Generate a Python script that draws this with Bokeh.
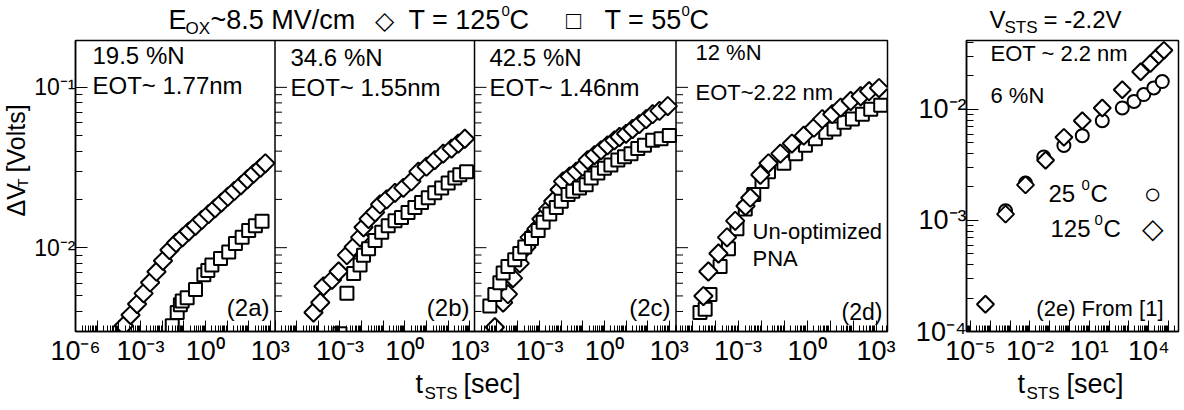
import math
from bokeh.plotting import figure
from bokeh.models import Range1d, LogScale, FixedTicker, CustomJSTickFormatter, Label
from bokeh.layouts import row, column
from bokeh.embed import file_html
from bokeh.resources import INLINE

FONT = "Liberation Sans"

# ---------------- data: stress time t [s], threshold shift dVT [V] ----------------
# (2a) 19.5 %N
a_t125_t = [1.7e-4, 3.5e-4, 7e-4, 1.4e-3, 2.8e-3, 5.5e-3, 1.1e-2, 2.2e-2, 4.4e-2, 8.7e-2, 0.17, 0.35,
            0.69, 1.4, 2.8, 5.5, 11, 22, 44, 87, 170, 350, 590]
a_t125_v = [3.26e-3, 3.8e-3, 4.45e-3, 5.19e-3, 6.07e-3, 7.08e-3, 8.28e-3, 9.66e-3, 1.07e-2, 1.16e-2,
            1.26e-2, 1.37e-2, 1.49e-2, 1.62e-2, 1.76e-2, 1.91e-2, 2.08e-2, 2.26e-2, 2.45e-2, 2.67e-2,
            2.9e-2, 3.15e-2, 3.36e-2]
a_t55_t = [0.0295, 0.05, 0.07, 0.085, 0.144, 0.35, 0.85, 1.3, 2.0, 5.0, 12, 24.5, 50, 100, 204, 415]
a_t55_v = [3.26e-3, 3.94e-3, 4.4e-3, 4.65e-3, 4.87e-3, 5.48e-3, 6.78e-3, 7.2e-3, 7.8e-3, 8.57e-3,
           9.4e-3, 1.06e-2, 1.16e-2, 1.28e-2, 1.37e-2, 1.46e-2]
# (2b) 34.6 %N
b_t125_t = [6.0e-5, 1.23e-4, 1.74e-4, 4.3e-4, 8.7e-4, 2.1e-3, 4.3e-3, 8.5e-3, 1.23e-2, 2.1e-2, 4.2e-2,
            7.1e-2, 0.144, 0.35, 0.85, 2.0, 4.2, 10, 24, 59, 144, 293, 590]
b_t125_v = [3.94e-3, 4.55e-3, 5.74e-3, 6.3e-3, 7.1e-3, 8.98e-3, 1.01e-2, 1.16e-2, 1.34e-2, 1.51e-2,
            1.66e-2, 1.86e-2, 2.0e-2, 2.2e-2, 2.36e-2, 2.59e-2, 2.98e-2, 3.2e-2, 3.52e-2, 3.86e-2,
            4.15e-2, 4.46e-2, 4.78e-2]
b_t55_t = [1e-3, 2.1e-3, 4.3e-3, 8.5e-3, 1.23e-2, 2.1e-2, 4.2e-2, 8.5e-2, 0.17, 0.35, 0.7, 1.4, 2.9,
           5.9, 12, 24, 50, 100, 204, 345, 710]
b_t55_v = [2.9e-3, 5.2e-3, 6.9e-3, 7.8e-3, 8.98e-3, 9.86e-3, 1.11e-2, 1.25e-2, 1.37e-2, 1.47e-2,
           1.54e-2, 1.66e-2, 1.78e-2, 1.91e-2, 2.05e-2, 2.2e-2, 2.36e-2, 2.53e-2, 2.72e-2, 2.85e-2,
           2.98e-2]
# (2c) 42.5 %N
c_t125_t = [8.7e-6, 2.1e-5, 3.5e-5, 6e-5, 1.23e-4, 2.5e-4, 3.5e-4, 7.2e-4, 1.23e-3, 2.5e-3, 4.3e-3,
            8.5e-3, 1.23e-2, 2.5e-2, 5e-2, 0.1, 0.17, 0.35, 0.7, 1.4, 2.9, 5, 10, 20, 41, 85, 170,
            350, 850]
c_t125_v = [3.19e-3, 4.55e-3, 5.13e-3, 6.46e-3, 7.98e-3, 1.01e-2, 1.16e-2, 1.31e-2, 1.51e-2, 1.74e-2,
            1.95e-2, 2.3e-2, 2.59e-2, 2.78e-2, 2.98e-2, 3.2e-2, 3.52e-2, 3.78e-2, 4.05e-2, 4.35e-2,
            4.67e-2, 4.9e-2, 5.13e-2, 5.5e-2, 5.9e-2, 6.34e-2, 6.8e-2, 7.13e-2, 7.64e-2]
c_t55_t = [5.1e-6, 8.7e-6, 1.48e-5, 2.1e-5, 3.5e-5, 7.2e-5, 1.23e-4, 2.1e-4, 4.3e-4, 8.7e-4, 1.48e-3,
           3e-3, 6e-3, 1.02e-2, 2.1e-2, 3.5e-2, 7.1e-2, 0.144, 0.245, 0.5, 1.0, 2.0, 4.2, 8.5, 17,
           35, 71, 170, 415, 1000]
c_t55_v = [4.33e-3, 5.1e-3, 6.04e-3, 6.94e-3, 7.62e-3, 8.4e-3, 9.2e-3, 1.01e-2, 1.14e-2, 1.28e-2,
           1.44e-2, 1.62e-2, 1.78e-2, 1.95e-2, 2.15e-2, 2.25e-2, 2.36e-2, 2.47e-2, 2.72e-2, 2.92e-2,
           3.13e-2, 3.28e-2, 3.52e-2, 3.69e-2, 3.86e-2, 4.15e-2, 4.35e-2, 4.67e-2, 4.78e-2, 5.0e-2]
# (2d) 12 %N, un-optimized PNA
d_t125_t = [3.1e-5, 5.1e-5, 1.4e-4, 3.3e-4, 7.5e-4, 2.1e-3, 3.4e-3, 9.3e-3, 2.1e-2, 6.9e-2, 0.22,
            0.72, 2.0, 4.6, 12.5, 29, 79, 215, 500, 1350]
d_t125_v = [4.99e-3, 7.1e-3, 9.2e-3, 1.16e-2, 1.47e-2, 1.82e-2, 2.05e-2, 2.85e-2, 3.36e-2, 3.86e-2,
            4.46e-2, 5.0e-2, 5.6e-2, 6.34e-2, 6.8e-2, 7.48e-2, 8.22e-2, 8.8e-2, 9.46e-2, 9.9e-2]
d_t55_t = [2.2e-5, 3.7e-5, 6e-5, 1.65e-4, 3.8e-4, 8.9e-4, 2.05e-3, 4.8e-3, 1.1e-2, 2.1e-2, 9.8e-2,
           0.32, 0.85, 2.3, 6.5, 15, 41, 94, 255, 590, 1600]
d_t55_v = [3.94e-3, 4.13e-3, 5.1e-3, 7.62e-3, 9.86e-3, 1.31e-2, 1.74e-2, 2.15e-2, 2.59e-2, 2.98e-2,
           3.36e-2, 3.86e-2, 4.35e-2, 4.78e-2, 5.25e-2, 5.5e-2, 6.05e-2, 6.34e-2, 6.8e-2, 7.3e-2,
           7.73e-2]
# (2e) 6 %N, from [1]
e_t25_t = [5.9e-4, 6e-3, 5e-2, 0.52, 4.4, 45, 460, 1.8e3, 5.6e3, 1.8e4, 4.8e4]
e_t25_v = [1.22e-3, 2.17e-3, 3.73e-3, 4.73e-3, 5.8e-3, 7.9e-3, 1.03e-2, 1.18e-2, 1.36e-2, 1.56e-2,
           1.78e-2]
e_t125_t = [5.7e-5, 5.9e-4, 6e-3, 6.2e-2, 0.52, 4.4, 45, 460, 3.9e3, 1.2e4, 3.2e4, 5.8e4]
e_t125_v = [1.76e-4, 1.14e-3, 2.09e-3, 3.48e-3, 5.6e-3, 7.9e-3, 1.03e-2, 1.5e-2, 2.18e-2, 2.59e-2,
            3.07e-2, 3.4e-2]

# axis labels (decade exponents)
LABELED = {"a": [-6, -3, 0, 3], "b": [-3, 0, 3], "c": [-3, 0, 3], "d": [-3, 0, 3]}
E_X_LABELED = [-5, -2, 1, 4]
AD_Y_MAJOR = [0.01, 0.1]
E_Y_MAJOR = [1e-4, 1e-3, 1e-2]

# ---------------- layout (page pixels) ----------------
TOTAL_W = 1182
HEAD_H = 38
TOP = 40            # frame top
FH = 296            # frame height
BOTTOM = TOP + FH   # frame bottom
MID_BOTTOM = 368    # bottom of the plot row
FOOT_BOTTOM = 408
YLAB_W = 31
AD_LEFT = 73
AD_W = 814
AD_RIGHT_BORDER = 10
E_LEFT = 966
E_W = 212
MID_H = MID_BOTTOM - HEAD_H

# panel: (offset in frame px, width px, log10 t at left, log10 t at right)
PANELS = {"a": (0, 200, -6.0, 3.217), "b": (200, 200, -6.0, 3.217),
          "c": (400, 202, -6.0, 3.31), "d": (602, 212, -5.7, 3.5)}
YLO, YHI = 0.003, 0.196
E_XLO, E_XHI = -5.2, 5.5
E_YLO, E_YHI = 1e-4, 10 ** -1.38

SUP = str.maketrans("-0123456789", "⁻⁰¹²³⁴⁵⁶⁷⁸⁹")


def sup(d):
    return "10" + str(d).translate(SUP)


def ppd(n):
    off, w, lo, hi = PANELS[n]
    return w / (hi - lo)


def full(n):
    off, w, lo, hi = PANELS[n]
    k = ppd(n)
    return 10 ** (lo - off / k), 10 ** (hi + (AD_W - off - w) / k)


def to_main(n, L):
    off, w, lo, hi = PANELS[n]
    px = off + (L - lo) * ppd(n)
    return PANELS["a"][2] + px / ppd("a")


FMT_CODE = """
const L = Math.log10(tick);
for (let i = 0; i < vals.length; i++) {
  if (Math.abs(L - vals[i]) < 1e-6) { return labs[i]; }
}
return "";
"""


def style_axis(ax, size):
    ax.axis_line_width = 1.5
    ax.axis_line_color = "black"
    ax.major_tick_in = 11
    ax.major_tick_out = 0
    ax.minor_tick_in = 6
    ax.minor_tick_out = 0
    ax.major_tick_line_color = "black"
    ax.minor_tick_line_color = "black"
    ax.major_label_text_font = FONT
    ax.major_label_text_font_size = f"{size}px"
    ax.major_label_text_color = "black"


def txt(fig, frame_left, frame_bottom, s, x, y, size, align="left", angle=0.0):
    fig.add_layout(Label(x=x - frame_left, y=frame_bottom - y, x_units="screen", y_units="screen",
                         text=s, text_font=FONT, text_font_size=f"{size}px",
                         text_align=align, text_baseline="middle", angle=angle,
                         text_color="black"))


def diamonds(fig, t, v, rn="default", size=13, lw=2):
    fig.scatter(t, v, marker="square", angle=math.pi / 4, size=size, line_color="black",
                line_width=lw, fill_color="white", x_range_name=rn)


def squares(fig, t, v, rn="default", size=13):
    fig.scatter(t, v, marker="square", size=size, line_color="black", line_width=2,
                fill_color="white", x_range_name=rn)


def blank(w, h):
    f = figure(width=w, height=h, x_range=Range1d(0, 1), y_range=Range1d(0, 1),
               x_axis_type=None, y_axis_type=None, output_backend="svg", toolbar_location=None,
               min_border_left=0, min_border_right=0, min_border_top=0, min_border_bottom=0)
    f.outline_line_color = None
    f.xgrid.visible = False
    f.ygrid.visible = False
    return f


# ---------------- panels a-d ----------------
p = figure(width=AD_LEFT - YLAB_W + AD_W + AD_RIGHT_BORDER, height=MID_H,
           x_axis_type="log", y_axis_type="log",
           x_range=Range1d(*full("a")), y_range=Range1d(YLO, YHI),
           output_backend="svg", toolbar_location=None,
           min_border_left=AD_LEFT - YLAB_W, min_border_right=AD_RIGHT_BORDER,
           min_border_top=TOP - HEAD_H, min_border_bottom=MID_BOTTOM - BOTTOM)
p.extra_x_ranges = {n: Range1d(*full(n)) for n in "bcd"}
p.extra_x_scales = {n: LogScale() for n in "bcd"}
p.xgrid.visible = False
p.ygrid.visible = False
p.outline_line_color = "black"
p.outline_line_width = 1.5

maj, labs, mnr = [], [], []
for n in "abcd":
    off, w, lo, hi = PANELS[n]
    for d in range(math.ceil(lo), math.floor(hi) + 1):
        maj.append(to_main(n, d))
        labs.append(sup(d) if d in LABELED[n] else "")
    for d in range(math.floor(lo), math.ceil(hi)):
        for k in range(2, 10):
            L = d + math.log10(k)
            if lo < L < hi:
                mnr.append(to_main(n, L))
p.xaxis.ticker = FixedTicker(ticks=[10 ** v for v in maj], minor_ticks=[10 ** v for v in mnr])
p.xaxis.formatter = CustomJSTickFormatter(args=dict(vals=maj, labs=labs), code=FMT_CODE)
style_axis(p.xaxis[0], 27)
p.xaxis.major_label_standoff = 4

y_minor = [k * 10 ** d for d in (-3, -2, -1) for k in range(2, 10) if YLO <= k * 10 ** d <= YHI]
p.yaxis.ticker = FixedTicker(ticks=AD_Y_MAJOR, minor_ticks=y_minor)
p.yaxis.formatter = CustomJSTickFormatter(
    args=dict(vals=[math.log10(v) for v in AD_Y_MAJOR],
              labs=[sup(round(math.log10(v))) for v in AD_Y_MAJOR]), code=FMT_CODE)
style_axis(p.yaxis[0], 23)
p.yaxis.major_tick_in = 12
p.yaxis.minor_tick_in = 7
p.yaxis.major_label_standoff = 0

# panel dividers and their inner y ticks
for n in "bcd":
    off, w, lo, hi = PANELS[n]
    x0 = 10 ** lo
    p.segment(x0=[x0], y0=[YLO], x1=[x0], y1=[YHI], line_color="black", line_width=1.5,
              x_range_name=n)
    p.segment(x0=[x0] * len(AD_Y_MAJOR), y0=AD_Y_MAJOR,
              x1=[10 ** (lo + 12 / ppd(n))] * len(AD_Y_MAJOR), y1=AD_Y_MAJOR,
              line_color="black", line_width=1, x_range_name=n)
    p.segment(x0=[x0] * len(y_minor), y0=y_minor,
              x1=[10 ** (lo + 7 / ppd(n))] * len(y_minor), y1=y_minor,
              line_color="black", line_width=1, x_range_name=n)

diamonds(p, a_t125_t, a_t125_v, "default")
squares(p, a_t55_t, a_t55_v, "default")
diamonds(p, b_t125_t, b_t125_v, "b")
squares(p, b_t55_t, b_t55_v, "b")
diamonds(p, c_t125_t, c_t125_v, "c")
squares(p, c_t55_t, c_t55_v, "c")
squares(p, d_t55_t, d_t55_v, "d")
diamonds(p, d_t125_t, d_t125_v, "d")

# panel annotations
for s, x, y, sz, al in [("19.5 %N", 90, 60, 24, "left"), ("EOT~ 1.77nm", 90, 90, 24, "left"),
                        ("(2a)", 267, 312, 24, "right"),
                        ("34.6 %N", 288, 62, 24, "left"), ("EOT~ 1.55nm", 288, 92, 24, "left"),
                        ("(2b)", 467, 312, 24, "right"),
                        ("42.5 %N", 487, 62, 24, "left"), ("EOT~ 1.46nm", 487, 92, 24, "left"),
                        ("(2c)", 668, 312, 24, "right"),
                        ("12 %N", 693, 57, 22, "left"), ("EOT~2.22 nm", 693, 97, 22, "left"),
                        ("Un-optimized", 750, 236, 22, "left"), ("PNA", 750, 263, 22, "left"),
                        ("(2d)", 880, 316, 23, "right")]:
    txt(p, AD_LEFT, BOTTOM, s, x, y, sz, align=al)

# ---------------- panel e ----------------
E_BORDER_LEFT = E_LEFT - (AD_LEFT + AD_W + AD_RIGHT_BORDER)
pe = figure(width=E_BORDER_LEFT + E_W + (TOTAL_W - E_LEFT - E_W), height=MID_H,
            x_axis_type="log", y_axis_type="log",
            x_range=Range1d(10 ** E_XLO, 10 ** E_XHI), y_range=Range1d(E_YLO, E_YHI),
            output_backend="svg", toolbar_location=None,
            min_border_left=E_BORDER_LEFT, min_border_right=TOTAL_W - E_LEFT - E_W,
            min_border_top=TOP - HEAD_H, min_border_bottom=MID_BOTTOM - BOTTOM)
pe.xgrid.visible = False
pe.ygrid.visible = False
pe.outline_line_color = "black"
pe.outline_line_width = 1.5

e_maj = list(range(math.ceil(E_XLO), math.floor(E_XHI) + 1))
e_mnr = [d + math.log10(k) for d in range(math.floor(E_XLO), math.ceil(E_XHI)) for k in range(2, 10)
         if E_XLO < d + math.log10(k) < E_XHI]
pe.xaxis.ticker = FixedTicker(ticks=[10 ** d for d in e_maj], minor_ticks=[10 ** v for v in e_mnr])
pe.xaxis.formatter = CustomJSTickFormatter(
    args=dict(vals=e_maj, labs=[sup(d) if d in E_X_LABELED else "" for d in e_maj]), code=FMT_CODE)
style_axis(pe.xaxis[0], 27)
pe.xaxis.major_label_standoff = 4

ey_minor = [k * 10 ** d for d in (-4, -3, -2) for k in range(2, 10) if k * 10 ** d <= E_YHI]
pe.yaxis.ticker = FixedTicker(ticks=E_Y_MAJOR, minor_ticks=ey_minor)
pe.yaxis.formatter = CustomJSTickFormatter(
    args=dict(vals=[math.log10(v) for v in E_Y_MAJOR],
              labs=[sup(round(math.log10(v))) for v in E_Y_MAJOR]), code=FMT_CODE)
style_axis(pe.yaxis[0], 27)
pe.yaxis.major_tick_in = 12
pe.yaxis.minor_tick_in = 7
pe.yaxis.major_label_standoff = 0

pe.scatter(e_t25_t, e_t25_v, marker="circle", size=13, line_color="black", line_width=2,
           fill_color="white")
diamonds(pe, e_t125_t, e_t125_v, size=12)

for s, x, y, sz, al in [("EOT ~ 2.2 nm", 990, 58, 22, "left"), ("6 %N", 990, 100, 22, "left"),
                        ("25", 1048, 198, 24, "left"), ("0", 1081, 189, 15, "left"),
                        ("C", 1090, 198, 24, "left"), ("○", 1152, 198, 30, "center"),
                        ("125", 1050, 233, 24, "left"), ("0", 1094, 224, 15, "left"),
                        ("C", 1103, 233, 24, "left"), ("◇", 1152, 233, 28, "center"),
                        ("(2e) From [1]", 1163, 313, 22, "right")]:
    txt(pe, E_LEFT, BOTTOM, s, x, y, sz, align=al)

# ---------------- header: title and V_STS ----------------
head = blank(TOTAL_W, HEAD_H)
for s, x, y, sz, al in [("E", 168, 19, 27, "left"), ("OX", 185, 28, 17, "left"),
                        ("~8.5 MV/cm", 210, 19, 27, "left"), ("◇", 384, 19, 25, "center"),
                        ("T = 125", 408, 19, 27, "left"),
                        ("0", 501, 10, 15, "left"), ("C", 509, 19, 27, "left"),
                        ("□", 573, 19, 25, "center"),
                        ("T = 55", 604, 19, 27, "left"), ("0", 681, 10, 15, "left"),
                        ("C", 689, 19, 27, "left"),
                        ("V", 989, 19, 24, "left"), ("STS", 1004, 27, 17, "left"),
                        ("= -2.2V", 1043, 19, 24, "left")]:
    txt(head, 0, HEAD_H, s, x, y, sz, align=al)

# ---------------- y label strip ----------------
ylab = blank(YLAB_W, MID_H)
for s, x, y, sz in [("ΔV", 15.5, 253, 25), ("T", 21.5, 224, 15), ("[Volts]", 15.5, 209, 25)]:
    txt(ylab, 0, MID_BOTTOM, s, x, y, sz, angle=math.pi / 2)

# ---------------- footer: x labels ----------------
foot = blank(TOTAL_W, FOOT_BOTTOM - MID_BOTTOM)
for s, x, y, sz in [("t", 415, 383, 27), ("STS", 424, 393, 17), ("[sec]", 463, 383, 27),
                    ("t", 1017, 383, 27), ("STS", 1026, 393, 17), ("[sec]", 1066, 383, 27)]:
    txt(foot, 0, FOOT_BOTTOM, s, x, y, sz)

layout = column(head, row(ylab, p, pe), foot)
open("out.html", "w").write(file_html(layout, INLINE))
